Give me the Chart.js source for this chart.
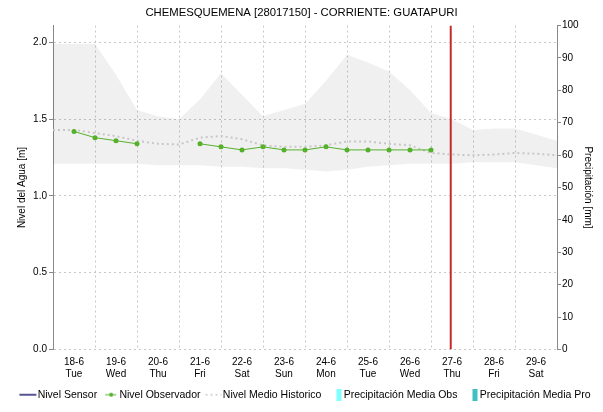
<!DOCTYPE html>
<html>
<head>
<meta charset="utf-8">
<script src="https://cdn.jsdelivr.net/npm/chart.js@4/dist/chart.umd.min.js"></script>
<style>
html, body { margin: 0; padding: 0; background: #fff; }
</style>
</head>
<body>
<canvas id="grafica" width="603" height="412"></canvas>
<script>
// etiquetas del eje x (una por dia, marcadas al mediodia)
const dias = ["18-6", "19-6", "20-6", "21-6", "22-6", "23-6", "24-6", "25-6", "26-6", "27-6", "28-6", "29-6"];
const semana = ["Tue", "Wed", "Thu", "Fri", "Sat", "Sun", "Mon", "Tue", "Wed", "Thu", "Fri", "Sat"];
const posDias = [0.5, 1.5, 2.5, 3.5, 4.5, 5.5, 6.5, 7.5, 8.5, 9.5, 10.5, 11.5];

// lecturas del observador (dias desde 18-6 00:00)
const obsTiempo = [0.5, 1, 1.5, 2, 2.5, 3, 3.5, 4, 4.5, 5, 5.5, 6, 6.5, 7, 7.5, 8, 8.5, 9];
const obsNivel = [1.42, 1.38, 1.36, 1.34, null, null, 1.34, 1.32, 1.30, 1.32, 1.30, 1.30, 1.32, 1.30, 1.30, 1.30, 1.30, 1.30];

// historico: medio, maximo y minimo cada 12 horas
const histTiempo = [0, 0.5, 1, 1.5, 2, 2.5, 3, 3.5, 4, 4.5, 5, 5.5, 6, 6.5, 7, 7.5, 8, 8.5, 9, 9.5, 10, 10.5, 11, 11.5, 12];
const histMedio = [1.43, 1.43, 1.41, 1.39, 1.36, 1.34, 1.335, 1.38, 1.39, 1.37, 1.33, 1.32, 1.32, 1.33, 1.355, 1.355, 1.34, 1.33, 1.28, 1.27, 1.265, 1.27, 1.28, 1.275, 1.265];
const histMax = [1.99, 1.99, 1.99, 1.79, 1.56, 1.52, 1.50, 1.63, 1.80, 1.66, 1.52, 1.56, 1.60, 1.75, 1.92, 1.87, 1.81, 1.69, 1.54, 1.50, 1.43, 1.44, 1.44, 1.40, 1.36];
const histMin = [1.21, 1.21, 1.21, 1.21, 1.21, 1.20, 1.20, 1.20, 1.19, 1.19, 1.18, 1.18, 1.17, 1.16, 1.17, 1.19, 1.20, 1.21, 1.21, 1.21, 1.22, 1.22, 1.22, 1.20, 1.18];

// precipitacion (sin datos en el periodo)
const precObs = [];
const precPro = [];

const ahora = 9.47;

const pares = (xs, ys) => xs.map((x, i) => ({ x: x, y: ys[i] }));

// iconos de la leyenda: 20px de ancho, el texto empieza en x = 19.5
function icono(dibujar) {
    const c = document.createElement("canvas");
    c.width = 20;
    c.height = 12;
    const g = c.getContext("2d");
    dibujar(g);
    return c;
}

const iconos = [
    icono(g => { g.strokeStyle = "#1c1c70"; g.lineWidth = 1.5; g.beginPath(); g.moveTo(1, 6); g.lineTo(18, 6); g.stroke(); }),
    icono(g => {
        g.strokeStyle = "#55b02a"; g.lineWidth = 1; g.beginPath(); g.moveTo(5, 6); g.lineTo(16, 6); g.stroke();
        g.fillStyle = "#55b02a"; g.beginPath(); g.arc(11, 6, 2, 0, Math.PI * 2); g.fill();
    }),
    icono(g => { g.strokeStyle = "#c8c8c8"; g.lineWidth = 1.5; g.setLineDash([2, 3]); g.beginPath(); g.moveTo(2, 6); g.lineTo(18, 6); g.stroke(); }),
    icono(g => { g.fillStyle = "#80ffff"; g.fillRect(12, 0, 5, 12); }),
    icono(g => { g.fillStyle = "#40c0c0"; g.fillRect(12, 0, 5, 12); })
];

// la leyenda va un poco corrida a la derecha
const correrLeyenda = {
    id: 'correrLeyenda',
    afterLayout(chart) {
        chart.legend.left += 6;
        chart.legend.right += 6;
    }
};

Chart.defaults.font.family = "'Liberation Sans', Arial, sans-serif";
Chart.defaults.font.size = 10;
Chart.defaults.color = "#000";

const ctx = document.getElementById("grafica").getContext("2d");

const grafica = new Chart(ctx,
{
    type: 'line',
    plugins: [correrLeyenda],
    data:
    {
        datasets:
        [
            {
                label: "Nivel Sensor",
                data: [],
                borderColor: "#1c1c70",
                yAxisID: 'y'
            },
            {
                label: "Nivel Observador",
                data: pares(obsTiempo, obsNivel),
                borderColor: "#55b02a",
                backgroundColor: "#55b02a",
                borderWidth: 1,
                pointRadius: 2.5,
                pointBorderWidth: 0,
                spanGaps: false,
                yAxisID: 'y'
            },
            {
                label: "Nivel Medio Historico",
                data: pares(histTiempo, histMedio),
                borderColor: "#c6c6c6",
                borderWidth: 2,
                borderDash: [2, 3],
                pointRadius: 0,
                yAxisID: 'y'
            },
            {
                type: 'bar',
                label: "Precipitación Media Obs",
                data: precObs,
                backgroundColor: "#80ffff",
                yAxisID: 'y1'
            },
            {
                type: 'bar',
                label: "Precipitación Media Pro",
                data: precPro,
                backgroundColor: "#40c0c0",
                yAxisID: 'y1'
            },
            {
                label: "Hoy",
                data: [{ x: ahora, y: 0 }, { x: ahora, y: 2.11 }],
                borderColor: "#c42a2a",
                borderWidth: 2,
                pointRadius: 0,
                yAxisID: 'y'
            },
            {
                label: "Maximo Historico",
                data: pares(histTiempo, histMax),
                borderWidth: 0,
                pointRadius: 0,
                fill: '+1',
                backgroundColor: "rgba(0, 0, 0, 0.06)",
                yAxisID: 'y'
            },
            {
                label: "Minimo Historico",
                data: pares(histTiempo, histMin),
                borderWidth: 0,
                pointRadius: 0,
                fill: false,
                yAxisID: 'y'
            }
        ]
    },
    options:
    {
        responsive: false,
        animation: false,
        devicePixelRatio: 1,
        layout: { padding: { left: 0, right: 0, top: 0, bottom: 2 } },
        plugins:
        {
            tooltip: { enabled: false },
            title:
            {
                display: true,
                text: "CHEMESQUEMENA [28017150] - CORRIENTE: GUATAPURI",
                font: { size: 11.3, weight: 'normal' },
                color: "#000",
                padding: { top: 6, bottom: 6 }
            },
            legend:
            {
                position: 'bottom',
                labels:
                {
                    usePointStyle: true,
                    pointStyleWidth: 8,
                    font: { size: 10.5 },
                    color: "#000",
                    padding: 9,
                    generateLabels: chart => chart.data.datasets.slice(0, 5).map((ds, i) => ({
                        text: ds.label,
                        pointStyle: iconos[i],
                        fillStyle: "transparent",
                        strokeStyle: "transparent",
                        lineWidth: 0,
                        hidden: false,
                        datasetIndex: i,
                        fontColor: "#000"
                    }))
                }
            }
        },
        scales:
        {
            x:
            {
                type: 'linear',
                min: 0,
                max: 12,
                offset: false,
                afterBuildTicks: scale => { scale.ticks = posDias.map(v => ({ value: v })); },
                afterFit: scale => { scale.height = scale.height - 7; },
                ticks:
                {
                    autoSkip: false,
                    maxRotation: 0,
                    padding: 7,
                    callback: (value, index) => [dias[index], semana[index]]
                },
                grid: { color: "#c8c8c8", drawTicks: false },
                border: { display: false, dash: [2, 3] }
            },
            y:
            {
                position: 'left',
                min: 0,
                max: 2.11,
                afterFit: scale => { scale.width = 53; },
                ticks:
                {
                    stepSize: 0.5,
                    includeBounds: false,
                    padding: 2,
                    callback: v => v.toFixed(1)
                },
                title:
                {
                    display: true,
                    text: "Nivel del Agua [m]",
                    font: { size: 10 },
                    padding: { top: 16 }
                },
                grid: { color: "#c8c8c8", tickLength: 4, tickColor: "#888", tickBorderDash: [] },
                border: { display: true, color: "#888", dash: [2, 3] }
            },
            y1:
            {
                position: 'right',
                min: 0,
                max: 100,
                afterFit: scale => { scale.width = 46; },
                ticks: { stepSize: 10, padding: 1 },
                title:
                {
                    display: true,
                    text: "Precipitación [mm]",
                    font: { size: 10 },
                    padding: { top: 9 }
                },
                grid: { drawOnChartArea: false, tickLength: 4, tickColor: "#888" },
                border: { display: true, color: "#888" }
            }
        }
    }
});
</script>
</body>
</html>
